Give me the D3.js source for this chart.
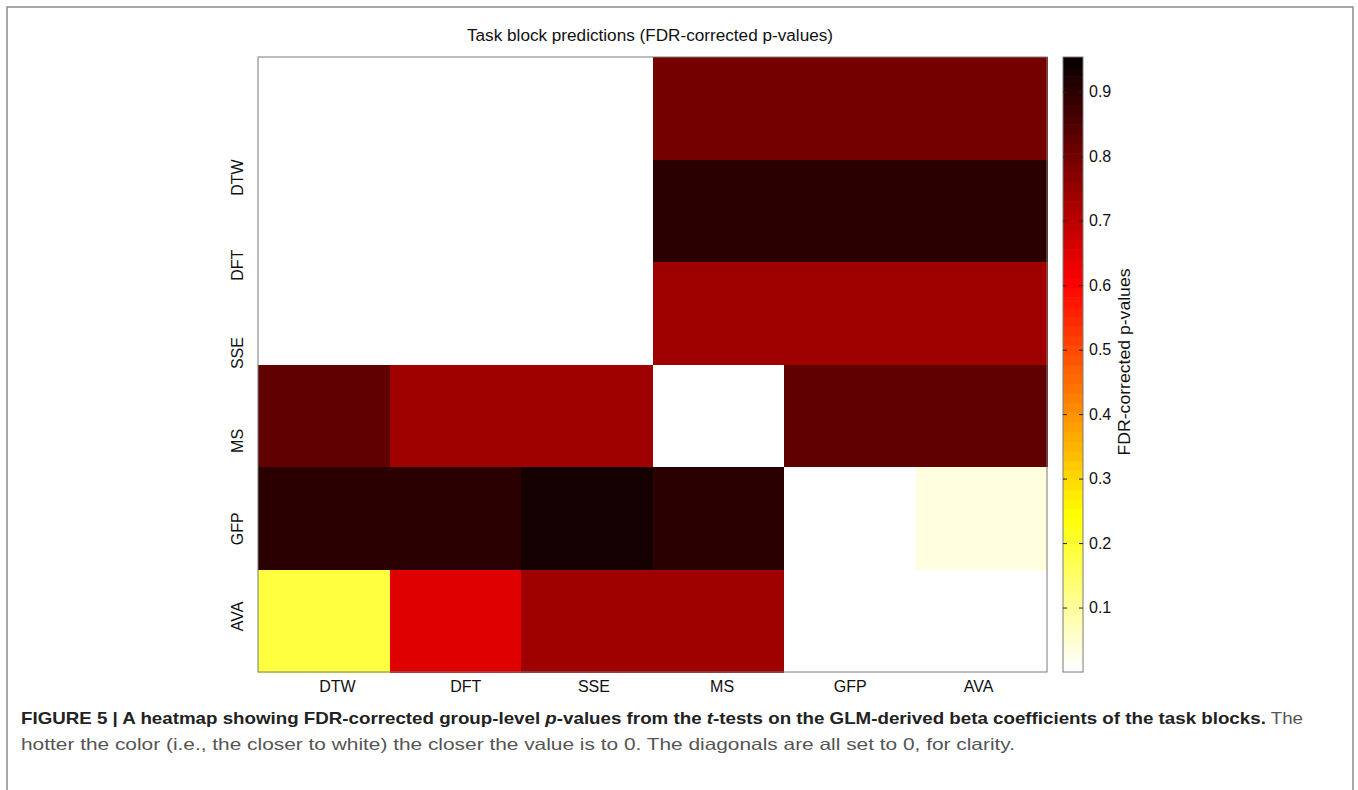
<!DOCTYPE html>
<html lang="en">
<head>
<meta charset="UTF-8">
<title>Task block predictions</title>
<script src="https://d3js.org/d3.v7.min.js"></script>
<style>
  body { margin: 0; background: #fff; }
  svg { display: block; font-family: "Liberation Sans", Arial, sans-serif; }
  .axis path { display: none; }
  .axis text { fill: #111; }
</style>
</head>
<body>
<div id="chart"></div>
<script>
// task blocks, used for both rows and columns
const blocks = ["DTW", "DFT", "SSE", "MS", "GFP", "AVA"];

// FDR-corrected p-values, one array per row (top to bottom), columns left to right
const rowDTW = [0, 0, 0, 0.80, 0.80, 0.80];
const rowDFT = [0, 0, 0, 0.90, 0.90, 0.90];
const rowSSE = [0, 0, 0, 0.74, 0.74, 0.74];
const rowMS  = [0.83, 0.74, 0.74, 0, 0.83, 0.83];
const rowGFP = [0.90, 0.90, 0.93, 0.90, 0, 0.03];
const rowAVA = [0.19, 0.65, 0.74, 0.74, 0, 0];

const colorbarTicks = [0.1, 0.2, 0.3, 0.4, 0.5, 0.6, 0.7, 0.8, 0.9];
const pMax = 0.954;

const W = 1358, H = 790;
const svg = d3.select("#chart").append("svg")
    .attr("width", W)
    .attr("height", H);

svg.append("rect").attr("width", W).attr("height", H).attr("fill", "#fff");

// outer figure frame
svg.append("rect")
    .attr("x", 7).attr("y", 7)
    .attr("width", 1346).attr("height", 800)
    .attr("fill", "none")
    .attr("stroke", "#8a8a8a")
    .attr("stroke-width", 1.5);

// matlab "hot" colormap, 64 entries, flipped so low = white
function hot(k, n) {
    const n1 = Math.floor(3 / 8 * n), n2 = n1, n3 = n - n1 - n2;
    const r = Math.min(1, (k + 1) / n1);
    const g = Math.max(0, Math.min(1, (k + 1 - n1) / n2));
    const b = Math.max(0, Math.min(1, (k + 1 - n1 - n2) / n3));
    return d3.rgb(r * 255, g * 255, b * 255).formatHex();
}
const hotColors = d3.range(64).map(k => hot(k, 64)).reverse();
const color = d3.scaleQuantize().domain([0, pMax]).range(hotColors);

const rows = [rowDTW, rowDFT, rowSSE, rowMS, rowGFP, rowAVA];
const cells = rows.flatMap((row, i) => row.map((v, j) => ({ row: blocks[i], col: blocks[j], p: v })));

const x = d3.scaleBand().domain(blocks).range([258, 1047]);
const y = d3.scaleBand().domain(blocks).range([57, 672]);

svg.append("g").selectAll("rect")
    .data(cells)
    .enter().append("rect")
    .attr("x", d => x(d.col))
    .attr("y", d => y(d.row))
    .attr("width", x.bandwidth() + 0.5)
    .attr("height", y.bandwidth() + 0.5)
    .attr("fill", d => color(d.p))
    .attr("shape-rendering", "crispEdges");

svg.append("rect")
    .attr("x", 258).attr("y", 57)
    .attr("width", 789).attr("height", 615)
    .attr("fill", "none")
    .attr("stroke", "#7a7a7a")
    .attr("stroke-width", 1);

// tick labels sit on their own spacing in the original figure
const xLabel = d3.scalePoint().domain(blocks).range([337, 978]);
const yLabel = d3.scalePoint().domain(blocks).range([177, 616]);

svg.append("g")
    .attr("class", "axis")
    .attr("transform", "translate(0,681)")
    .call(d3.axisBottom(xLabel).tickSize(0).tickPadding(0))
    .selectAll("text")
    .attr("dy", "0.71em")
    .style("font-size", "16px");

const yAxis = svg.append("g")
    .attr("class", "axis")
    .attr("transform", "translate(243,0)")
    .call(d3.axisLeft(yLabel).tickSize(0).tickPadding(0));
yAxis.selectAll(".tick text")
    .attr("x", 0).attr("dy", 0)
    .attr("text-anchor", "middle")
    .attr("transform", "rotate(-90)")
    .style("font-size", "16px");

// title
svg.append("text")
    .attr("x", 650).attr("y", 41)
    .attr("text-anchor", "middle")
    .attr("textLength", 366)
    .attr("lengthAdjust", "spacingAndGlyphs")
    .style("font-size", "16px")
    .attr("fill", "#111")
    .text("Task block predictions (FDR-corrected p-values)");

// colorbar
const cbX = 1063, cbW = 20;
const cb = d3.scaleLinear().domain([0, pMax]).range([672, 57]);

svg.append("g").selectAll("rect")
    .data(hotColors)
    .enter().append("rect")
    .attr("x", cbX)
    .attr("width", cbW)
    .attr("y", c => cb(color.invertExtent(c)[1]))
    .attr("height", c => cb(color.invertExtent(c)[0]) - cb(color.invertExtent(c)[1]) + 0.6)
    .attr("fill", c => c);

svg.append("rect")
    .attr("x", cbX).attr("y", 57)
    .attr("width", cbW).attr("height", 615)
    .attr("fill", "none")
    .attr("stroke", "#7a7a7a");

const cbRight = svg.append("g")
    .attr("class", "axis")
    .attr("transform", `translate(${cbX + cbW},0)`)
    .call(d3.axisRight(cb).tickValues(colorbarTicks).tickSize(-4).tickPadding(6));
cbRight.selectAll("text").style("font-size", "16px");
cbRight.selectAll("line").attr("stroke", "#222");

svg.append("g")
    .attr("class", "axis")
    .attr("transform", `translate(${cbX},0)`)
    .call(d3.axisLeft(cb).tickValues(colorbarTicks).tickSize(-4).tickFormat(""))
    .selectAll("line").attr("stroke", "#222");

svg.append("text")
    .attr("transform", "translate(1130,362) rotate(-90)")
    .attr("text-anchor", "middle")
    .attr("textLength", 187)
    .attr("lengthAdjust", "spacingAndGlyphs")
    .style("font-size", "16px")
    .attr("fill", "#111")
    .text("FDR-corrected p-values");

// caption
const cap = svg.append("text")
    .attr("x", 21).attr("y", 724)
    .attr("textLength", 1282)
    .attr("lengthAdjust", "spacingAndGlyphs")
    .style("font-size", "16.5px")
    .attr("fill", "#222");
cap.append("tspan").attr("font-weight", "bold")
    .text("FIGURE 5 | A heatmap showing FDR-corrected group-level ");
cap.append("tspan").attr("font-weight", "bold").attr("font-style", "italic").text("p");
cap.append("tspan").attr("font-weight", "bold").text("-values from the ");
cap.append("tspan").attr("font-weight", "bold").attr("font-style", "italic").text("t");
cap.append("tspan").attr("font-weight", "bold")
    .text("-tests on the GLM-derived beta coefficients of the task blocks.");
cap.append("tspan").attr("fill", "#555").text(" The");

svg.append("text")
    .attr("x", 21).attr("y", 750)
    .attr("textLength", 994)
    .attr("lengthAdjust", "spacingAndGlyphs")
    .style("font-size", "16.5px")
    .attr("fill", "#555")
    .text("hotter the color (i.e., the closer to white) the closer the value is to 0. The diagonals are all set to 0, for clarity.");
</script>
</body>
</html>
